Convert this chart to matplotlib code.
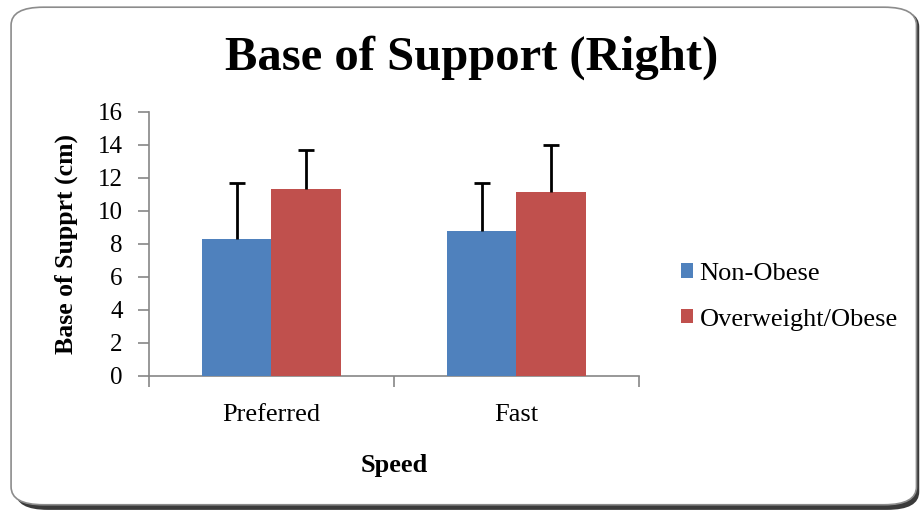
import numpy as np
import matplotlib.pyplot as plt
from matplotlib.patches import FancyBboxPatch

plt.rcParams['font.family'] = ['Liberation Serif', 'DejaVu Serif']

######### Data ######################
speeds = ['Preferred', 'Fast']
non_obese = [8.3, 8.75]
non_obese_err = [3.37, 2.94]
overweight = [11.3, 11.15]
overweight_err = [2.38, 2.85]

blue = '#4F81BD'
red = '#C0504D'
axis_grey = '#868686'

fig = plt.figure(figsize=(9.22, 5.14), dpi=100)

# rounded chart frame with a dark shadow (kept behind the axes)
shadow = FancyBboxPatch((0.017, 0.008), 0.98, 0.975, boxstyle='round,pad=0,rounding_size=0.035',
                        transform=fig.transFigure, facecolor='#3a3a3a', edgecolor='none', zorder=-2)
frame = FancyBboxPatch((0.012, 0.018), 0.982, 0.968, boxstyle='round,pad=0,rounding_size=0.035',
                       transform=fig.transFigure, facecolor='white', edgecolor='#8c8c8c', linewidth=1.2, zorder=-1)
fig.patches.extend([shadow, frame])

ax = fig.add_axes([0.1616, 0.2685, 0.5314, 0.5142])
ax.set_facecolor('none')

x = np.arange(len(speeds))
w = 0.285
ekw = dict(ecolor='black', elinewidth=2, capsize=6, capthick=2)
b1 = ax.bar(x - w / 2, non_obese, w, color=blue, label='Non-Obese',
            yerr=[np.zeros(len(x)), non_obese_err], error_kw=ekw, zorder=3)
b2 = ax.bar(x + w / 2, overweight, w, color=red, label='Overweight/Obese',
            yerr=[np.zeros(len(x)), overweight_err], error_kw=ekw, zorder=3)
# only the upper cap is shown
for b in (b1, b2):
    b.errorbar.lines[1][0].set_visible(False)

ax.set_xlim(-0.5, 1.5)
ax.set_ylim(0, 16)
ax.set_yticks(np.arange(0, 17, 2))
ax.set_xticks(x)
ax.set_xticklabels(speeds, fontsize=19)
ax.set_xticks([-0.5, 0.5, 1.5], minor=True)
ax.tick_params(axis='x', which='major', length=0, pad=20)
ax.tick_params(axis='x', which='minor', length=8, color=axis_grey, width=1.2)
ax.tick_params(axis='y', length=8, color=axis_grey, width=1.2, labelsize=18, pad=11)

for s in ['top', 'right']:
    ax.spines[s].set_visible(False)
for s in ['left', 'bottom']:
    ax.spines[s].set_color(axis_grey)
    ax.spines[s].set_linewidth(1.2)

ax.set_xlabel('Speed', fontsize=19, fontweight='bold', labelpad=20)
ax.set_ylabel('Base of Supprt (cm)', fontsize=18.5, fontweight='bold', labelpad=14)

fig.text(0.512, 0.887, 'Base of Support (Right)', ha='center', va='center',
         fontsize=35, fontweight='bold')

ax.legend(loc='center left', bbox_to_anchor=(1.086, 0.3), frameon=False, borderpad=0,
          borderaxespad=0, fontsize=19, handlelength=0.45, handleheight=0.45,
          handletextpad=0.25, labelspacing=0.9)

fig.savefig('out.png', dpi=100)
